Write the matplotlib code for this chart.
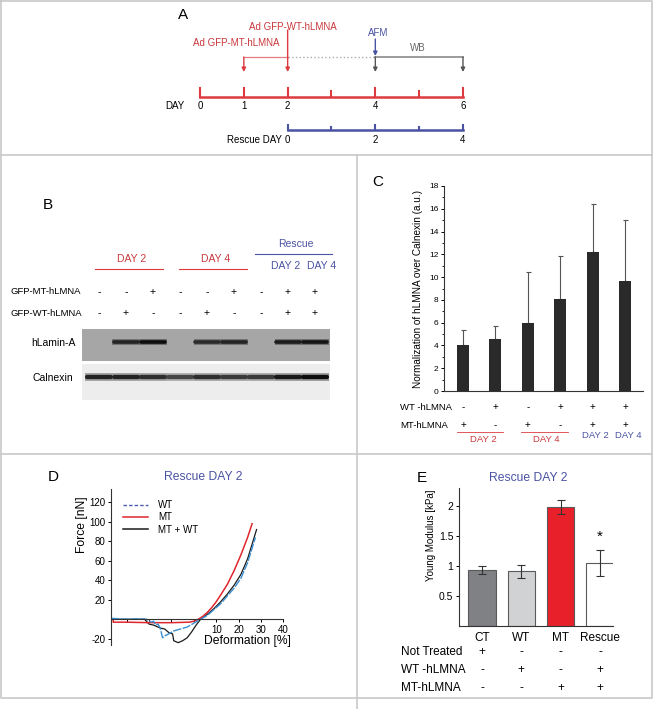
import numpy as np
import matplotlib
matplotlib.use("Agg")
import matplotlib.pyplot as plt
from matplotlib.lines import Line2D
from matplotlib.patches import Rectangle
from matplotlib.transforms import blended_transform_factory as blend

plt.rcParams['font.family'] = ['Liberation Sans', 'DejaVu Sans']
plt.rcParams['axes.unicode_minus'] = False

W, H = 653, 709

# panel A: timeline
day_ticks = [0, 1, 2, 3, 4, 5, 6]
day_labels = ['0', '1', '2', '', '4', '', '6']
rescue_ticks = [2, 3, 4, 5, 6]
rescue_labels = ['0', '', '2', '', '4']

# panel B: western blot
mt_b = ['-', '-', '+', '-', '-', '+', '-', '+', '+']
wt_b = ['-', '+', '-', '-', '+', '-', '-', '+', '+']
lamin_band = [0.0, 0.85, 1.0, 0.0, 0.8, 0.85, 0.0, 0.9, 0.95]
calnexin_band = [0.9, 0.9, 0.85, 0.75, 0.85, 0.8, 0.8, 0.95, 1.0]

# panel C
c_values = [4.0, 4.6, 6.0, 8.1, 12.2, 9.7]
c_err = [1.4, 1.1, 4.45, 3.75, 4.25, 5.3]
c_wt = ['-', '+', '-', '+', '+', '+']
c_mt = ['+', '-', '+', '-', '+', '+']

# panel D: force curves
wt_x = [-37, -30, -25, -21, -19, -18, -17, -16, -15, -14, -13, -12, -9, -6, -3, 0, 3, 6, 9, 12, 15, 18, 21, 24, 27.5]
wt_y = [1, 0, 0.5, 0, -3, -2, -6, -5, -9, -19, -17, -16, -12, -10, -8, -4, 0, 4, 10, 16, 24, 32, 42, 58, 84]
mt_x = [-36, -36, -30, -20, -10, -2, 0, 2, 4, 6, 8, 10, 12, 15, 18, 21, 24, 26]
mt_y = [0, -3, -3, -3.5, -3.5, -3, -2, 0, 3, 7, 12, 18, 25, 36, 50, 66, 84, 98]
mix_x = [-37, -30, -22, -20, -18, -15, -13, -11, -9.5, -9, -7, -5, -3, -1, 1, 3, 6, 9, 12, 15, 18, 21, 24, 28]
mix_y = [0, 0, 0, -5, -6, -9, -10, -14, -15, -22, -24, -22, -19, -13, -6, 0, 5, 11, 18, 26, 35, 46, 62, 92]

# panel E
e_labels = ['CT', 'WT', 'MT', 'Rescue']
e_values = [0.93, 0.91, 1.98, 1.05]
e_err = [0.065, 0.115, 0.12, 0.215]
e_colors = ['#808184', '#d1d2d4', '#e8202a', '#ffffff']
e_not = ['+', '-', '-', '-']
e_wt = ['-', '+', '-', '+']
e_mt = ['-', '-', '+', '+']

red = '#dc3a3f'
red_txt = '#c9383c'
blue = '#4a52a3'
border = '#c8c8c8'

fig = plt.figure(figsize=(W / 100, H / 100), dpi=100)


def px_axes(x0, y0, x1, y1):
    a = fig.add_axes([x0 / W, 1 - y1 / H, (x1 - x0) / W, (y1 - y0) / H])
    a.set_facecolor('none')
    return a


ov = px_axes(0, 0, W, H)
ov.set_xlim(0, W)
ov.set_ylim(H, 0)
ov.axis('off')

# panel borders
kw = dict(color=border, lw=1.2, clip_on=False)
ov.plot([1, 652, 652, 1, 1], [1, 1, 698, 698, 1], **kw)
ov.plot([1, 652], [155, 155], **kw)
ov.plot([1, 652], [454, 454], **kw)
ov.plot([357, 357], [155, 709], **kw)

# ---------------- A ----------------
axA = px_axes(150, 0, 500, 150)
axA.set_xlim(-50 / 43.83, 300 / 43.83)
axA.set_ylim(150, 0)
axA.axis('off')
axA.plot([day_ticks[0], day_ticks[-1]], [97, 97], color=red, lw=1.8)
for d, lab in zip(day_ticks, day_labels):
    axA.plot([d, d], [97, 88 if lab else 91], color=red, lw=1.5)
    axA.text(d, 106, lab, ha='center', va='center', fontsize=7)
axA.text(-0.57, 106, 'DAY', ha='center', va='center', fontsize=7)
axA.plot([rescue_ticks[0], rescue_ticks[-1]], [130, 130], color=blue, lw=1.8)
for d, lab in zip(rescue_ticks, rescue_labels):
    axA.plot([d, d], [130, 125 if lab else 127], color=blue, lw=1.5)
    axA.text(d, 140, lab, ha='center', va='center', fontsize=7)
axA.text(1.87, 140, 'Rescue DAY', ha='right', va='center', fontsize=7)


def arrow(ax, x, y0, y1, color):
    ax.annotate('', xy=(x, y1), xytext=(x, y0),
                arrowprops=dict(arrowstyle='-|>', color=color, lw=1.0,
                                mutation_scale=6, shrinkA=0, shrinkB=0))


axA.plot([1, 2], [57, 57], color='#e77b7e', lw=0.9)
axA.plot([2, 4], [57, 57], color='#aaaaaa', lw=1.0, ls=':')
axA.plot([4, 6], [57, 57], color='#8a8a8a', lw=1.2)
arrow(axA, 1, 57, 72, red)
arrow(axA, 2, 30, 72, red)
arrow(axA, 4, 57, 72, '#555555')
arrow(axA, 6, 57, 72, '#555555')
arrow(axA, 4, 39, 56, blue)
axA.text(2.12, 27, 'Ad GFP-WT-hLMNA', color=red_txt, ha='center', va='center', fontsize=7)
axA.text(0.82, 43, 'Ad GFP-MT-hLMNA', color=red_txt, ha='center', va='center', fontsize=7)
axA.text(4.06, 33, 'AFM', color=blue, ha='center', va='center', fontsize=7)
axA.text(4.97, 48, 'WB', color='#666666', ha='center', va='center', fontsize=7)
axA.text(-0.39, 15, 'A', ha='center', va='center', fontsize=11)

# ---------------- B ----------------
axB = px_axes(0, 160, 357, 410)
axB.set_xlim(-99 / 27, 258 / 27)
axB.set_ylim(410, 160)
axB.axis('off')
lanes = np.arange(len(mt_b))
axB.text(-1.89, 205, 'B', ha='center', va='center', fontsize=11)
for (x0, x1), xc, lab in [((-0.15, 2.37), 1.22, 'DAY 2'), ((2.96, 5.48), 4.33, 'DAY 4')]:
    axB.plot([x0, x1], [269, 269], color=red, lw=0.8)
    axB.text(xc, 259, lab, color=red_txt, ha='center', va='center', fontsize=7.5)
axB.plot([5.78, 8.63], [254, 254], color=blue, lw=0.8)
axB.text(7.3, 244, 'Rescue', color=blue, ha='center', va='center', fontsize=7.5)
axB.text(6.93, 266, 'DAY 2', color=blue, ha='center', va='center', fontsize=7.5)
axB.text(8.26, 266, 'DAY 4', color=blue, ha='center', va='center', fontsize=7.5)
axB.text(-3.26, 292, 'GFP-MT-hLMNA', ha='left', va='center', fontsize=6.8)
axB.text(-3.26, 313, 'GFP-WT-hLMNA', ha='left', va='center', fontsize=6.8)
for i in lanes:
    axB.text(i, 292, mt_b[i], ha='center', va='center', fontsize=7.5)
    axB.text(i, 313, wt_b[i], ha='center', va='center', fontsize=7.5)
lamin_bg, calx_bg = 0.65, 0.93
axB.add_patch(Rectangle((-0.63, 329), 9.19, 32, facecolor=str(lamin_bg), edgecolor='none'))
axB.add_patch(Rectangle((-0.63, 364), 9.19, 36, facecolor=str(calx_bg), edgecolor='none'))
axB.text(-1.7, 343, 'hLamin-A', ha='center', va='center', fontsize=7.5)
axB.text(-1.7, 378, 'Calnexin', ha='center', va='center', fontsize=7.5)


def band(i, y, v, bg, core, halo):
    if v <= 0:
        return
    axB.plot([i - 0.5, i + 0.5], [y, y], color=str(bg - (bg - 0.1) * 0.45 * v),
             lw=halo, solid_capstyle='butt')
    axB.plot([i - 0.45, i + 0.45], [y, y], color=str(bg - (bg - 0.05) * v),
             lw=core, solid_capstyle='round')


for i, v in zip(lanes, lamin_band):
    band(i, 342, v, lamin_bg, 2.6, 4.2)
for i, v in zip(lanes, calnexin_band):
    band(i, 377, v, calx_bg, 3.0, 5.5)

# ---------------- C ----------------
axC = px_axes(444, 186, 643, 391)
xc = np.arange(len(c_values))
axC.bar(xc, c_values, width=0.37, color='#2a2a2a', zorder=2)
axC.errorbar(xc, c_values, yerr=[np.zeros(len(c_err)), c_err], fmt='none', ecolor='#555555',
             elinewidth=0.8, capsize=1.8, capthick=0.8, zorder=1)
axC.set_xlim(-0.586, 5.556)
axC.set_ylim(0, 18)
axC.set_yticks(np.arange(0, 19, 2))
axC.set_yticks(np.arange(1, 18, 2), minor=True)
axC.set_xticks([])
for s in ['top', 'right']:
    axC.spines[s].set_visible(False)
for s in ['left', 'bottom']:
    axC.spines[s].set_linewidth(0.8)
    axC.spines[s].set_color('#333333')
axC.tick_params(axis='y', labelsize=6, length=2.5, width=0.7, pad=1.5)
axC.tick_params(axis='y', which='minor', length=1.5, width=0.6)
axC.set_ylabel('Normalization of hLMNA over Calnexin (a.u.)', fontsize=7.2, labelpad=4)
ov.text(378, 182, 'C', ha='center', va='center', fontsize=11)
tC = blend(axC.transData, ov.transData)
ov.text(400, 407, 'WT -hLMNA', ha='left', va='center', fontsize=6.8)
ov.text(400, 425, 'MT-hLMNA', ha='left', va='center', fontsize=6.8)
for i in xc:
    axC.text(i, 407, c_wt[i], transform=tC, ha='center', va='center', fontsize=7)
    axC.text(i, 425, c_mt[i], transform=tC, ha='center', va='center', fontsize=7)
ov.plot([457, 503], [432, 432], color=red, lw=0.6)
ov.plot([521, 568], [432, 432], color=red, lw=0.6)
ov.text(483, 440, 'DAY 2', color=red_txt, ha='center', va='center', fontsize=6.8)
ov.text(546, 440, 'DAY 4', color=red_txt, ha='center', va='center', fontsize=6.8)
ov.text(595, 436, 'DAY 2', color=blue, ha='center', va='center', fontsize=6.8)
ov.text(628, 436, 'DAY 4', color=blue, ha='center', va='center', fontsize=6.8)

# ---------------- D ----------------
axD = px_axes(111, 489, 285, 645)
axD.plot(mix_x, mix_y, color='#1a1a1a', lw=0.9)
axD.plot(mt_x, mt_y, color='#e0262d', lw=1.1)
axD.plot(wt_x, wt_y, color='#3a8fd2', lw=1.0, ls=(0, (6, 1)))
axD.set_xlim(-37, 40.7)
axD.set_ylim(-26.4, 133.6)
for s in ['top', 'right']:
    axD.spines[s].set_visible(False)
axD.spines['bottom'].set_position(('data', 0))
axD.spines['bottom'].set_bounds(-37, 40)
for s in ['left', 'bottom']:
    axD.spines[s].set_linewidth(0.8)
    axD.spines[s].set_color('#333333')
axD.set_xticks([-30, -20, -10, 0, 10, 20, 30, 40])
axD.set_xticklabels(['', '', '', '', '10', '20', '30', '40'])
axD.set_yticks([-20, 20, 40, 60, 80, 100, 120])
axD.tick_params(labelsize=7, length=2.5, width=0.7, pad=1.5)
handles = [Line2D([], [], color='#4b5cb3', lw=1.0, ls=(0, (2.5, 1.5))),
           Line2D([], [], color='#e0262d', lw=1.1),
           Line2D([], [], color='#1a1a1a', lw=1.1)]
axD.legend(handles, ['WT', 'MT', 'MT + WT'], loc='upper left', frameon=False, fontsize=7,
           bbox_to_anchor=(12 / 174, 145 / 156), borderaxespad=0, borderpad=0,
           handlelength=2.6, handletextpad=1.0, labelspacing=0.25)
ov.text(53, 477, 'D', ha='center', va='center', fontsize=11)
ov.text(203, 477, 'Rescue DAY 2', color=blue, ha='center', va='center', fontsize=8.7)
ov.text(247, 641, 'Deformation [%]', ha='center', va='center', fontsize=8.7)
ov.text(82, 525, 'Force [nN]', ha='center', va='center', rotation=90, fontsize=8.7)

# ---------------- E ----------------
axE = px_axes(459, 488, 613, 626)
xe = np.arange(len(e_values))
axE.bar(xe, e_values, width=0.69, color=e_colors, edgecolor='#5a5a5a', linewidth=0.8, zorder=2)
axE.errorbar(xe, e_values, yerr=e_err, fmt='none', ecolor='#333333', elinewidth=0.8,
             capsize=3, capthick=0.8, zorder=3)
axE.set_xlim(-0.585, 3.33)
axE.set_ylim(0, 2.3)
axE.set_yticks([0.5, 1, 1.5, 2])
axE.set_yticklabels(['0.5', '1', '1.5', '2'])
axE.set_xticks(xe)
axE.set_xticklabels(e_labels)
for s in ['top', 'right']:
    axE.spines[s].set_visible(False)
for s in ['left', 'bottom']:
    axE.spines[s].set_linewidth(0.8)
    axE.spines[s].set_color('#333333')
axE.tick_params(axis='y', labelsize=7.5, length=2.5, width=0.7, pad=1.5)
axE.tick_params(axis='x', labelsize=8.5, length=0, pad=4)
axE.text(3, 1.48, '*', ha='center', va='center', fontsize=11)
ov.text(422, 478, 'E', ha='center', va='center', fontsize=11)
ov.text(528, 478, 'Rescue DAY 2', color=blue, ha='center', va='center', fontsize=8.7)
ov.text(431, 535, 'Young Modulus [kPa]', ha='center', va='center', rotation=90, fontsize=7)
tE = blend(axE.transData, ov.transData)
for y, lab, signs in [(652, 'Not Treated', e_not), (670, 'WT -hLMNA', e_wt), (688, 'MT-hLMNA', e_mt)]:
    ov.text(401, y, lab, ha='left', va='center', fontsize=8.5)
    for i in xe:
        axE.text(i, y, signs[i], transform=tE, ha='center', va='center', fontsize=8.5)

fig.savefig('out.png', dpi=100)
